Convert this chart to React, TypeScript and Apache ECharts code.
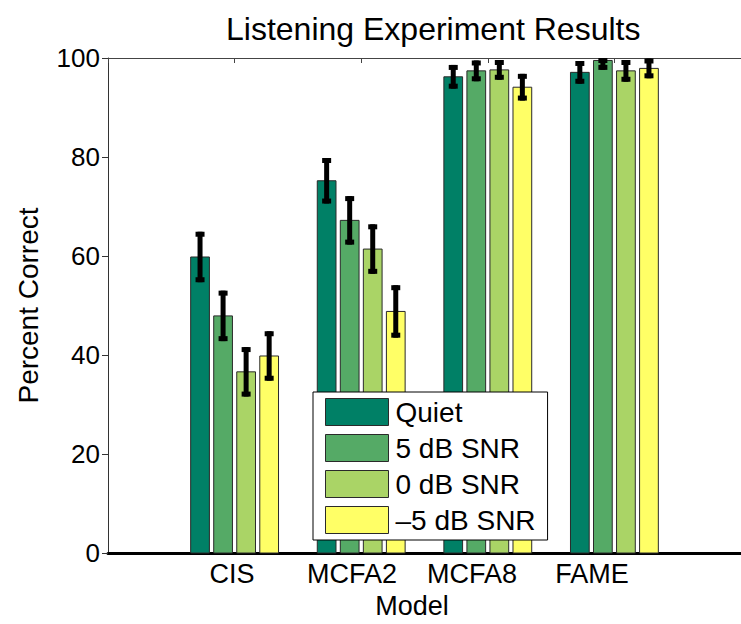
import React, { useEffect, useRef } from "react";
import * as echarts from "echarts";

const categories = ["CIS", "MCFA2", "MCFA8", "FAME"];
const seriesNames = ["Quiet", "5 dB SNR", "0 dB SNR", "–5 dB SNR"];
const quiet = [59.8, 75.2, 96.2, 97.1];
const quietErr = [5.1, 4.6, 2.4, 2.3];
const snr5 = [47.9, 67.2, 97.4, 99.5];
const snr5Err = [5.1, 4.9, 2.1, 1.9];
const snr0 = [36.6, 61.4, 97.6, 97.4];
const snr0Err = [5.0, 5.0, 2.0, 2.2];
const snrM5 = [39.8, 48.8, 94.1, 97.9];
const snrM5Err = [5.0, 5.3, 2.7, 2.0];
const yTicks = [0, 20, 40, 60, 80, 100];

const colors = ["#008066", "#55AA66", "#AAD466", "#FFFF66"];
const FONT = "'Liberation Sans', Arial, Helvetica, sans-serif";

export default function App() {
  const ref = useRef<HTMLDivElement>(null);
  useEffect(() => {
    document.body.style.margin = "0";
    const chart = echarts.init(ref.current!, undefined, { renderer: "svg" });
    const values = [quiet, snr5, snr0, snrM5];
    const errs = [quietErr, snr5Err, snr0Err, snrM5Err];
    const spacing = 0.182;
    const barW = 0.148;
    const yMax = yTicks[yTicks.length - 1];

    const barSeries = values.map((vals, s) => ({
      type: "custom",
      name: seriesNames[s],
      xAxisIndex: 0,
      yAxisIndex: 0,
      z: 2,
      data: vals.map((v, i) => [i + 1, v]),
      encode: { x: 0, y: 1 },
      itemStyle: { color: colors[s] },
      renderItem: (params: any, api: any) => {
        const xv = api.value(0) + (s - 1.5) * spacing;
        const v = api.value(1);
        const top = api.coord([xv, v]);
        const base = api.coord([xv, 0]);
        const w = api.size([barW, 0])[0];
        return {
          type: "rect",
          shape: { x: top[0] - w / 2, y: top[1], width: w, height: base[1] - top[1] },
          style: { fill: colors[s], stroke: "#2a2a2a", lineWidth: 1 },
        };
      },
    }));

    const errSeries = values.map((vals, s) => ({
      type: "custom",
      name: seriesNames[s] + " error",
      xAxisIndex: 0,
      yAxisIndex: 0,
      z: 3,
      data: vals.map((v, i) => [i + 1, v, errs[s][i]]),
      encode: { x: 0, y: 1 },
      renderItem: (params: any, api: any) => {
        const xv = api.value(0) + (s - 1.5) * spacing;
        const v = api.value(1);
        const e = api.value(2);
        const hi = api.coord([xv, Math.min(yMax, v + e)]);
        const lo = api.coord([xv, v - e]);
        const cap = 4.5;
        const capStyle = { stroke: "#000", lineWidth: 5 };
        return {
          type: "group",
          children: [
            { type: "line", shape: { x1: hi[0], y1: hi[1], x2: lo[0], y2: lo[1] }, style: { stroke: "#000", lineWidth: 5 } },
            { type: "line", shape: { x1: hi[0] - cap, y1: hi[1] + 2.5, x2: hi[0] + cap, y2: hi[1] + 2.5 }, style: capStyle },
            { type: "line", shape: { x1: lo[0] - cap, y1: lo[1] - 2.5, x2: lo[0] + cap, y2: lo[1] - 2.5 }, style: capStyle },
          ],
        };
      },
    }));

    chart.setOption({
      animation: false,
      backgroundColor: "#fff",
      textStyle: { fontFamily: FONT },
      title: {
        text: "Listening Experiment Results",
        left: 221,
        top: 8,
        textStyle: { fontFamily: FONT, fontSize: 32, fontWeight: "normal", color: "#000" },
      },
      legend: {
        orient: "vertical",
        left: 313,
        top: 392,
        padding: [6, 12, 6, 12],
        itemGap: 8,
        itemWidth: 63,
        itemHeight: 27,
        backgroundColor: "#fff",
        borderColor: "#000",
        borderWidth: 1,
        borderRadius: 0,
        selectedMode: false,
        textStyle: { fontFamily: FONT, fontSize: 28, color: "#000", padding: [0, 0, 0, 2] },
        data: seriesNames.map((n, i) => ({
          name: n,
          icon: "rect",
          itemStyle: { color: colors[i], borderColor: "#2a2a2a", borderWidth: 1 },
        })),
      },
      grid: [
        { left: 108, top: 58, width: 642, height: 495, containLabel: false },
        { left: 112, top: 58, width: 600, height: 495, containLabel: false },
      ],
      xAxis: [
        {
          type: "value",
          gridIndex: 0,
          min: 0,
          max: 5,
          interval: 1,
          position: "bottom",
          axisLine: { show: true, lineStyle: { color: "#000", width: 3 } },
          axisTick: { show: false },
          axisLabel: { show: false },
          splitLine: { show: false },
        },
        {
          type: "value",
          gridIndex: 0,
          min: 0,
          max: 5,
          interval: 1,
          position: "top",
          axisLine: { show: true, lineStyle: { color: "#444", width: 1 } },
          axisTick: { show: true, inside: true, length: 5, lineStyle: { color: "#444" } },
          axisLabel: { show: false },
          splitLine: { show: false },
        },
        {
          type: "value",
          gridIndex: 1,
          min: 0,
          max: 5,
          interval: 1,
          position: "bottom",
          name: "Model",
          nameLocation: "middle",
          nameGap: 37,
          nameTextStyle: { fontFamily: FONT, fontSize: 27, color: "#000" },
          axisLine: { show: false },
          axisTick: { show: false },
          splitLine: { show: false },
          axisLabel: {
            show: true,
            margin: 8,
            fontFamily: FONT,
            fontSize: 27,
            color: "#000",
            formatter: (v: number) => (v >= 1 && v <= categories.length ? categories[v - 1] : ""),
          },
        },
      ],
      yAxis: [
        {
          type: "value",
          gridIndex: 0,
          min: 0,
          max: 100,
          interval: 20,
          name: "Percent Correct",
          nameLocation: "middle",
          nameGap: 66,
          nameTextStyle: { fontFamily: FONT, fontSize: 28, color: "#000" },
          axisLine: { show: true, lineStyle: { color: "#333", width: 1 } },
          axisTick: { show: true, inside: false, length: 6, lineStyle: { color: "#333" } },
          axisLabel: { fontFamily: FONT, fontSize: 26, color: "#000", margin: 8 },
          splitLine: { show: false },
        },
        {
          type: "value",
          gridIndex: 1,
          min: 0,
          max: 100,
          show: false,
        },
      ],
      series: [...barSeries, ...errSeries],
    });
    return () => chart.dispose();
  }, []);
  return <div ref={ref} style={{ width: 741, height: 624 }} />;
}
